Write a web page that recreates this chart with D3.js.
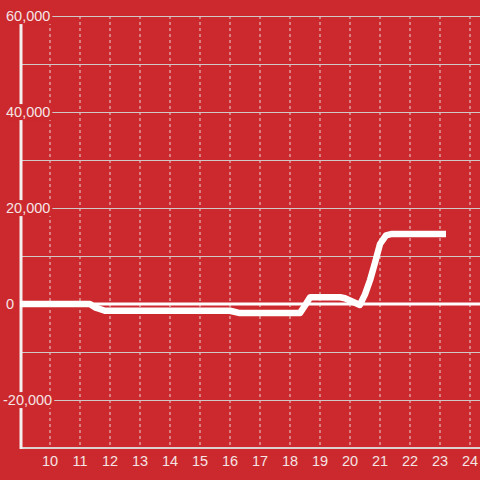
<!DOCTYPE html>
<html>
  <head>
    <meta charset="UTF-8" />
    <style>
      body { margin: 0; background: #cc292e; }
      svg { display: block; font-family: "Liberation Sans", Arial, sans-serif; }
    </style>
  </head>
  <body>
    <div id="chart"></div>
    <script src="https://d3js.org/d3.v7.min.js"></script>
    <script>
      // hour of day and value
      const hours = [9, 11.33, 11.5, 11.83, 16.0, 16.33, 18.33, 18.5, 18.67, 19.67, 19.83, 20.33, 20.5, 20.67, 20.83, 21.0, 21.2, 21.4, 23.2];
      const values = [0, 0, -700, -1400, -1400, -1900, -1900, -300, 1400, 1400, 1200, -200, 2000, 5000, 8500, 12500, 14300, 14600, 14600];
      const xTicks = [10, 11, 12, 13, 14, 15, 16, 17, 18, 19, 20, 21, 22, 23, 24];
      const yGrid = [60000, 50000, 40000, 30000, 20000, 10000, 0, -10000, -20000];
      const yLabels = [60000, 40000, 20000, 0, -20000];

      const width = 480;
      const height = 480;
      const bg = "#cc292e";

      const svg = d3.select("#chart").append("svg")
        .attr("width", width)
        .attr("height", height);

      svg.append("rect").attr("width", width).attr("height", height).attr("fill", bg);

      const x = d3.scaleLinear().domain([9, 24.333]).range([20, 480]);
      const y = d3.scaleLinear().domain([-30000, 60000]).range([448, 16]);

      // vertical dashed grid
      svg.append("g")
        .selectAll("line")
        .data(xTicks)
        .join("line")
        .attr("x1", (d) => x(d)).attr("x2", (d) => x(d))
        .attr("y1", y(60000)).attr("y2", y(-30000))
        .attr("stroke", "#e6d6d6")
        .attr("stroke-width", 1)
        .attr("stroke-dasharray", "3,3");

      // horizontal grid
      svg.append("g")
        .selectAll("line")
        .data(yGrid.filter((d) => d !== 0))
        .join("line")
        .attr("x1", x(9)).attr("x2", width)
        .attr("y1", (d) => y(d) + 0.5).attr("y2", (d) => y(d) + 0.5)
        .attr("stroke", "#d0c8c8")
        .attr("stroke-width", 1);

      // bottom axis line
      svg.append("line")
        .attr("x1", x(9)).attr("x2", width)
        .attr("y1", y(-30000)).attr("y2", y(-30000))
        .attr("stroke", "#dcd0d0")
        .attr("stroke-width", 2);

      // left axis line
      svg.append("line")
        .attr("x1", 21).attr("x2", 21)
        .attr("y1", y(60000)).attr("y2", y(-30000) + 1)
        .attr("stroke", "#f4eeee")
        .attr("stroke-width", 3);

      // zero line
      svg.append("line")
        .attr("x1", x(9)).attr("x2", width)
        .attr("y1", y(0)).attr("y2", y(0))
        .attr("stroke", "#ffffff")
        .attr("stroke-width", 3);

      // data line
      const line = d3.line()
        .x((d, i) => x(hours[i]))
        .y((d) => y(d));

      svg.append("path")
        .datum(values)
        .attr("d", line)
        .attr("fill", "none")
        .attr("stroke", "#ffffff")
        .attr("stroke-width", 6.5)
        .attr("stroke-linejoin", "round");

      // y labels with background boxes
      const fmt = d3.format(",");
      const yl = svg.append("g")
        .selectAll("g")
        .data(yLabels)
        .join("g")
        .attr("transform", (d) => `translate(${d < 0 ? 3 : 6},${y(d)})`);

      yl.append("text")
        .attr("dy", "0.35em")
        .attr("font-size", 14.5)
        .attr("fill", "#f4e4e4")
        .text((d) => fmt(d).replace("−", "-"))
        .each(function () {
          const b = this.getBBox();
          d3.select(this.parentNode).insert("rect", "text")
            .attr("x", b.x - 2).attr("y", b.y)
            .attr("width", b.width + 4).attr("height", b.height)
            .attr("fill", bg);
        });

      // x labels
      svg.append("g")
        .selectAll("text")
        .data(xTicks)
        .join("text")
        .attr("x", (d) => x(d))
        .attr("y", 461)
        .attr("dy", "0.35em")
        .attr("text-anchor", "middle")
        .attr("font-size", 14.5)
        .attr("fill", "#f4e4e4")
        .text((d) => d);
    </script>
  </body>
</html>
